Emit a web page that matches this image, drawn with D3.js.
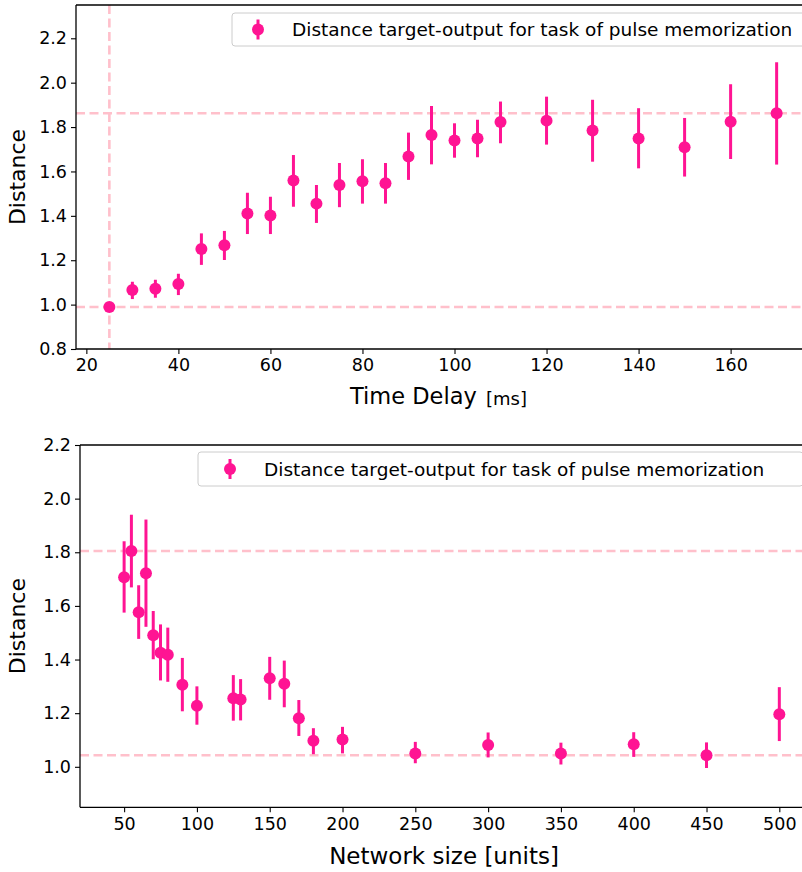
<!DOCTYPE html>
<html><head><meta charset="utf-8">
<script src="https://cdn.jsdelivr.net/npm/d3@7"></script>
<style>
body{margin:0;background:#fff;}
svg{display:block;font-family:"DejaVu Sans",sans-serif;}
</style></head><body>
<svg id="c" width="802" height="872"></svg>
<script>
// Top chart: time delay
const delays = [25,30,35,40,45,50,55,60,65,70,75,80,85,90,95,100,105,110,120,130,140,150,160,170];
const delayMean = [0.989,1.066,1.072,1.093,1.251,1.267,1.411,1.402,1.559,1.455,1.539,1.556,1.547,1.667,1.764,1.739,1.748,1.823,1.829,1.784,1.748,1.709,1.824,1.862];
const delayLow  = [0.980,1.025,1.031,1.043,1.179,1.201,1.318,1.318,1.441,1.368,1.439,1.455,1.455,1.562,1.632,1.662,1.664,1.727,1.721,1.644,1.614,1.577,1.656,1.631];
const delayHigh = [0.998,1.103,1.112,1.139,1.321,1.332,1.504,1.486,1.674,1.539,1.638,1.655,1.638,1.775,1.895,1.817,1.833,1.915,1.937,1.923,1.885,1.841,1.993,2.092];
const delayTicks = [20,40,60,80,100,120,140,160];
const delayYTicks = [0.8,1.0,1.2,1.4,1.6,1.8,2.0,2.2];

// Bottom chart: network size
const sizes = [50,55,60,65,70,75,80,90,100,125,130,150,160,170,180,200,250,300,350,400,450,500];
const sizeMean = [1.707,1.805,1.576,1.722,1.491,1.425,1.418,1.306,1.228,1.256,1.251,1.330,1.310,1.181,1.097,1.102,1.050,1.081,1.050,1.084,1.043,1.196];
const sizeLow  = [1.575,1.669,1.477,1.522,1.401,1.322,1.317,1.207,1.157,1.172,1.173,1.250,1.222,1.115,1.047,1.050,1.013,1.035,1.009,1.037,0.996,1.096];
const sizeHigh = [1.841,1.940,1.677,1.922,1.581,1.531,1.519,1.406,1.300,1.342,1.327,1.410,1.396,1.249,1.144,1.149,1.093,1.128,1.090,1.129,1.091,1.297];
const sizeTicks = [50,100,150,200,250,300,350,400,450,500];
const sizeYTicks = [1.0,1.2,1.4,1.6,1.8,2.0,2.2];

const legendText = "Distance target-output for task of pulse memorization";
const PINK = "#ff1493", LIGHT = "#ffc0cb";
const svg = d3.select("#c");

function panel(cfg){
  const g = svg.append("g");
  const x = d3.scaleLinear().domain(cfg.xdom).range([cfg.left, cfg.right]);
  const y = d3.scaleLinear().domain(cfg.ydom).range([cfg.bottom, cfg.top]);
  const clipId = "clip"+cfg.id;
  svg.append("clipPath").attr("id", clipId).append("rect")
    .attr("x", cfg.left).attr("y", cfg.top).attr("width", cfg.right-cfg.left).attr("height", cfg.bottom-cfg.top);
  const pg = g.append("g").attr("clip-path", `url(#${clipId})`);
  const n = cfg.xs.length;
  const maxV = d3.max(cfg.mean), minV = d3.min(cfg.mean);
  const dash = "9,4.5";
  [maxV, minV].forEach(v=>{
    pg.append("line").attr("x1", cfg.left).attr("x2", cfg.right).attr("y1", y(v)).attr("y2", y(v))
      .attr("stroke", LIGHT).attr("stroke-width", 2.6).attr("stroke-dasharray", dash);
  });
  if (cfg.vline){
    const xv = cfg.xs[cfg.mean.indexOf(minV)];
    pg.append("line").attr("x1", x(xv)).attr("x2", x(xv)).attr("y1", cfg.top).attr("y2", cfg.bottom)
      .attr("stroke", LIGHT).attr("stroke-width", 2.6).attr("stroke-dasharray", dash);
  }
  const idx = d3.range(n);
  pg.selectAll("line.err").data(idx).join("line").attr("class","err")
    .attr("x1", i=>x(cfg.xs[i])).attr("x2", i=>x(cfg.xs[i]))
    .attr("y1", i=>y(cfg.low[i])).attr("y2", i=>y(cfg.high[i]))
    .attr("stroke", PINK).attr("stroke-width", 3);
  pg.selectAll("circle").data(idx).join("circle")
    .attr("cx", i=>x(cfg.xs[i])).attr("cy", i=>y(cfg.mean[i])).attr("r", 6).attr("fill", PINK);

  // axes
  const xa = g.append("g").attr("transform", `translate(0,${cfg.bottom})`)
    .call(d3.axisBottom(x).tickValues(cfg.xticks).tickSize(5).tickPadding(5).tickFormat(d3.format("d")));
  const ya = g.append("g").attr("transform", `translate(${cfg.left},0)`)
    .call(d3.axisLeft(y).tickValues(cfg.yticks).tickSize(5).tickPadding(4).tickFormat(d3.format(".1f")));
  [xa, ya].forEach(a=>{
    a.select(".domain").attr("stroke", "#000").attr("stroke-width", 1.3);
    a.selectAll(".tick line").attr("stroke", "#000").attr("stroke-width", 1.1);
    a.selectAll(".tick text").attr("font-size", 17.5).attr("fill", "#000").attr("font-family", "DejaVu Sans");
  });
  xa.select(".domain").attr("d", `M${cfg.left},0H${cfg.right}`);
  ya.select(".domain").attr("d", `M0,${cfg.bottom}V${cfg.top}`);
  // top spine
  g.append("line").attr("x1", cfg.left).attr("x2", cfg.right).attr("y1", cfg.top).attr("y2", cfg.top)
    .attr("stroke", "#000").attr("stroke-width", 1.3);

  // y label
  g.append("text").attr("transform", `translate(${cfg.ylabX},${(cfg.top+cfg.bottom)/2}) rotate(-90)`)
    .attr("text-anchor", "middle").attr("font-size", 22).text("Distance");

  // legend
  const L = cfg.legend;
  g.append("rect").attr("x", L.x).attr("y", L.y).attr("width", L.w).attr("height", L.h).attr("rx", 3)
    .attr("fill", "rgba(255,255,255,0.8)").attr("stroke", "#cccccc").attr("stroke-width", 1);
  const mx = L.x + L.mk, my = L.y + L.h/2;
  g.append("line").attr("x1", mx).attr("x2", mx).attr("y1", my-10).attr("y2", my+10).attr("stroke", PINK).attr("stroke-width", 3);
  g.append("circle").attr("cx", mx).attr("cy", my).attr("r", 6).attr("fill", PINK);
  g.append("text").attr("x", L.x + L.tx).attr("y", my + 6.5).attr("font-size", 18.5).text(legendText);
  return g;
}

const g1 = panel({id:1, xs:delays, mean:delayMean, low:delayLow, high:delayHigh,
  xdom:[17.75,177.25], ydom:[0.8,2.35], left:76, right:810, top:5, bottom:349,
  xticks:delayTicks, yticks:delayYTicks, vline:true, ylabX:25,
  legend:{x:232, y:13, w:575, h:33, mk:26, tx:60}});
g1.append("text").attr("x", 350).attr("y", 404).attr("font-size", 22.5).text("Time Delay");
g1.append("text").attr("x", 486).attr("y", 405).attr("font-size", 18).text("[ms]");

const g2 = panel({id:2, xs:sizes, mean:sizeMean, low:sizeLow, high:sizeHigh,
  xdom:[19.7,530], ydom:[0.849,2.2], left:80, right:823, top:445, bottom:807.3,
  xticks:sizeTicks, yticks:sizeYTicks, vline:false, ylabX:25,
  legend:{x:198, y:452, w:605, h:34, mk:32, tx:66}});
g2.append("text").attr("x", 444).attr("y", 864).attr("text-anchor", "middle").attr("font-size", 23).text("Network size [units]");
</script>
</body></html>
